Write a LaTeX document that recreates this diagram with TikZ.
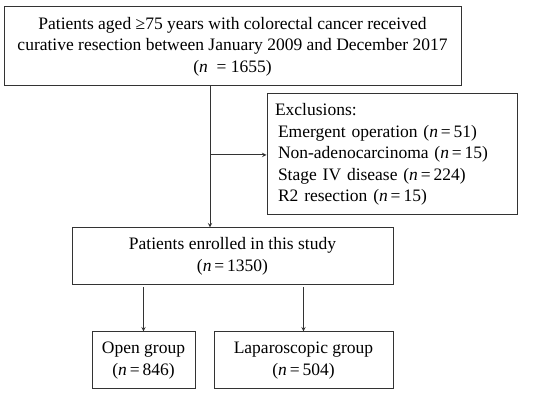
\documentclass[tikz,border=0pt]{standalone}
\usepackage{fontspec}
\setmainfont{Liberation Serif}
\usepackage{tikz}
\usetikzlibrary{
  arrows,
  arrows.meta,
  calc,
  positioning
}
\tikzset{>=stealth}
\tikzset{
  flowbox/.style={draw=black!80, line width=1pt, align=center, inner sep=0pt},
  flowarrow/.style={draw=black!80, line width=1pt, ->}
}

\begin{document}
\begin{tikzpicture}[thin, x=1pt, y=-1pt]
				\useasboundingbox (0,0) rectangle (550,395);
				\fontsize{17.5}{21.5}\selectfont
				\node[flowbox, minimum width=457pt, minimum height=79pt] (screened) at (232.5,46.5)
					{Patients aged ≥75 years with colorectal cancer received\\
					 curative resection between January 2009 and December 2017\\
					 (\textit{n}~~= 1655)};
				\node[flowbox, minimum width=250pt, minimum height=121pt, text width=234pt, align=left, inner xsep=8pt] (excluded) at (392,154.5)
					{Exclusions:\\
					 \hspace*{3pt}Emergent operation (\textit{n}\,=\,51)\\
					 \hspace*{3pt}Non-adenocarcinoma (\textit{n}\,=\,15)\\
					 \hspace*{3pt}Stage IV disease (\textit{n}\,=\,224)\\
					 \hspace*{3pt}R2 resection (\textit{n}\,=\,15)};
				\node[flowbox, minimum width=321pt, minimum height=57pt] (enrolled) at (232.5,256.5)
					{Patients enrolled in this study\\(\textit{n}\,=\,1350)};
				\node[flowbox, minimum width=103pt, minimum height=57pt] (open) at (143.5,360.5)
					{Open group\\(\textit{n}\,=\,846)};
				\node[flowbox, minimum width=179pt, minimum height=57pt] (lap) at (303.5,360.5)
					{Laparoscopic group\\(\textit{n}\,=\,504)};
				\coordinate (split) at (210,155);
				\draw[draw=black!80, line width=1pt] (screened.south -| split) -- (split);
				\draw[flowarrow] (split) -- (enrolled.north -| split);
				\draw[flowarrow] (split) -- (split -| excluded.west);
				\draw[flowarrow, shorten <=2pt] (enrolled.south -| open.north) -- (open.north);
				\draw[flowarrow, shorten <=2pt] (enrolled.south -| lap.north) -- (lap.north);
			\end{tikzpicture}
\end{document}
